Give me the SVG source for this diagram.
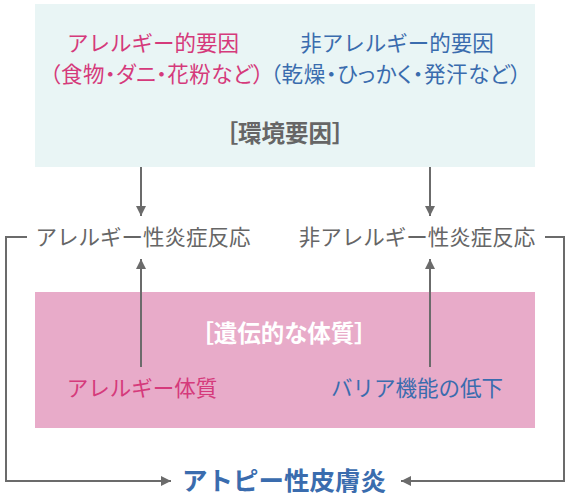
<svg xmlns="http://www.w3.org/2000/svg" width="571" height="497" viewBox="0 0 571 497">
<style>
text{font-family:"Noto Sans CJK JP","Noto Sans",sans-serif;text-anchor:middle;}
.m{fill:#d53a7b;font-size:21.5px;}
.b{fill:#3a6cae;font-size:21.5px;}
.g{fill:#666;font-size:21.5px;}
.p{font-feature-settings:"palt";}
.h{font-size:23.5px;font-weight:bold;font-feature-settings:"palt";}
.line{stroke:#6b6b6b;stroke-width:2;fill:none;}
</style>
<defs>
<marker id="ah" viewBox="0 0 10 10" refX="10" refY="5" markerWidth="5" markerHeight="5" orient="auto" markerUnits="strokeWidth">
<path d="M0,0 L10,5 L0,10 z" fill="#6b6b6b"/>
</marker>
</defs>
<g id="env">
<rect x="35" y="4" width="500" height="163" fill="#e9f5f5"/>
<text class="m" x="153" y="51">アレルギー的要因</text>
<text class="m p" x="157" y="82" letter-spacing="0.4">（食物・ダニ・花粉など）</text>
<text class="b" x="397" y="51">非アレルギー的要因</text>
<text class="b p" x="396" y="82" letter-spacing="0.6">（乾燥・ひっかく・発汗など）</text>
<text class="h" x="285" y="142" fill="#666">［環境要因］</text>
</g>
<g id="allergic-reaction"><text class="g" x="143" y="245">アレルギー性炎症反応</text></g>
<g id="nonallergic-reaction"><text class="g" x="417" y="245">非アレルギー性炎症反応</text></g>
<g id="genetic">
<rect x="35" y="292" width="500" height="136" fill="#e8abc9"/>
<text class="h" x="284" y="342" fill="#fff">［遺伝的な体質］</text>
<text class="m" x="142" y="396">アレルギー体質</text>
<text class="b" x="417" y="396">バリア機能の低下</text>
</g>
<g id="atopy"><text x="284" y="490" style="fill:#3a6cae;font-size:25.5px;font-weight:bold">アトピー性皮膚炎</text></g>
<g id="connectors">
<line class="line" x1="141" y1="167" x2="141" y2="216" marker-end="url(#ah)"/>
<line class="line" x1="430" y1="167" x2="430" y2="216" marker-end="url(#ah)"/>
<line class="line" x1="141" y1="367" x2="141" y2="259" marker-end="url(#ah)"/>
<line class="line" x1="430" y1="367" x2="430" y2="259" marker-end="url(#ah)"/>
<polyline class="line" points="27,237 6,237 6,481 171,481" marker-end="url(#ah)"/>
<polyline class="line" points="545,237 564,237 564,481 401,481" marker-end="url(#ah)"/>
</g>
</svg>
